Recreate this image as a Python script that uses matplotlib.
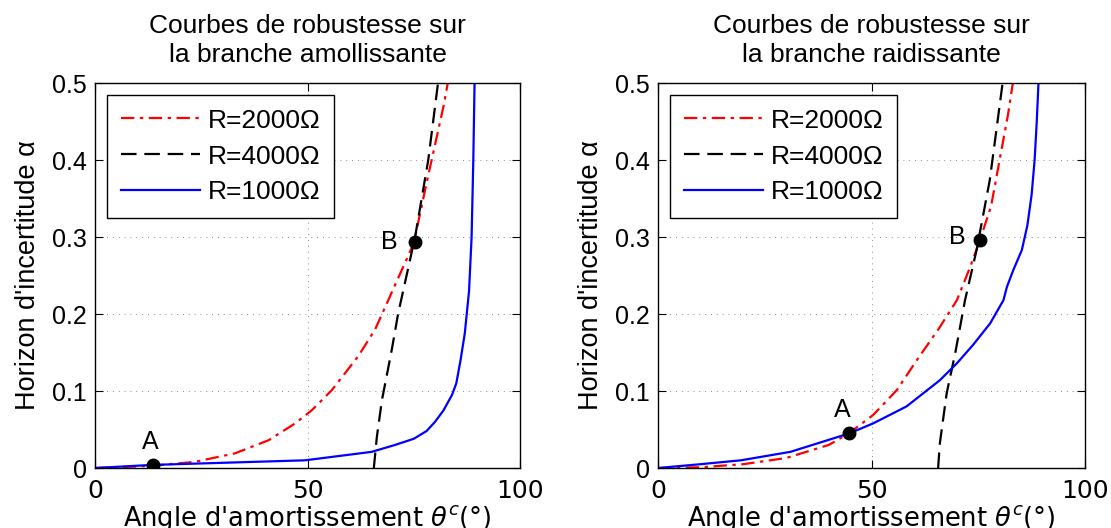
import numpy as np
import matplotlib
matplotlib.use("Agg")
import matplotlib.pyplot as plt

# Courbes de robustesse
titles = ["Courbes de robustesse sur\nla branche amollissante",
          "Courbes de robustesse sur\nla branche raidissante"]
labels = ["R=2000Ω", "R=4000Ω", "R=1000Ω"]

# branche amollissante
soft_r2000_x = [0, 10, 15.7, 23.5, 32.9, 40.8, 47.1, 51, 55.7, 61.9, 65.9, 69, 72, 75, 78, 80, 82, 83]
soft_r2000_y = [0, 0.002, 0.004, 0.008, 0.019, 0.036, 0.058, 0.075, 0.101, 0.145, 0.180, 0.218, 0.255,
                0.292, 0.37, 0.42, 0.47, 0.5]
soft_r4000_x = [65.6, 66.3, 67.5, 69.8, 71.3, 75.3, 78.4, 80.7]
soft_r4000_y = [0, 0.04, 0.088, 0.153, 0.2, 0.3, 0.4, 0.5]
soft_r1000_x = [0, 13.3, 49.4, 65.1, 70.6, 75, 78, 80, 82, 84, 85, 86, 87, 88, 88.6, 89, 89.3]
soft_r1000_y = [0, 0.004, 0.010, 0.021, 0.030, 0.038, 0.048, 0.06, 0.075, 0.095,
                0.11, 0.14, 0.175, 0.23, 0.3, 0.4, 0.5]
soft_pts = {"A": (13.6, 0.004), "B": (75.4, 0.293)}

# branche raidissante
stiff_r2000_x = [0, 10, 20, 30, 40, 44.7, 50.4, 55.9, 60.6, 66, 70, 73.1, 75.4, 78, 80, 82, 83.1]
stiff_r2000_y = [0, 0.001, 0.005, 0.013, 0.03, 0.045, 0.069, 0.101, 0.140, 0.183, 0.218, 0.261, 0.296,
                 0.34, 0.4, 0.46, 0.5]
stiff_r4000_x = [65.6, 66.0, 67.6, 69.6, 71.9, 74.6, 77.7, 80.7]
stiff_r4000_y = [0, 0.032, 0.097, 0.149, 0.218, 0.283, 0.374, 0.5]
stiff_r1000_x = [0, 10, 19.4, 31, 44.8, 50.4, 58.2, 66, 70, 73.8, 77.8, 80.9, 81.7, 83.2, 85.2, 86.5,
                 87.5, 88.2, 88.7, 89.1]
stiff_r1000_y = [0, 0.005, 0.010, 0.021, 0.045, 0.058, 0.080, 0.114, 0.136, 0.160, 0.188, 0.218, 0.235,
                 0.257, 0.283, 0.315, 0.355, 0.40, 0.45, 0.5]
stiff_pts = {"A": (44.7, 0.045), "B": (75.4, 0.296)}

# decalage des etiquettes A/B (points)
soft_offsets = {"A": (-2, 16.5), "B": (-18.5, 0)}
stiff_offsets = {"A": (-5, 16.5), "B": (-16, 2)}

HELV = "Liberation Sans"

fig = plt.figure(figsize=(11.11, 5.28), dpi=100)
ax1 = fig.add_axes([0.0855, 0.1136, 0.3826, 0.7292])
ax2 = fig.add_axes([0.5923, 0.1136, 0.3843, 0.7292])

panels = [
    (ax1, (soft_r2000_x, soft_r2000_y), (soft_r4000_x, soft_r4000_y), (soft_r1000_x, soft_r1000_y),
     soft_pts, soft_offsets),
    (ax2, (stiff_r2000_x, stiff_r2000_y), (stiff_r4000_x, stiff_r4000_y), (stiff_r1000_x, stiff_r1000_y),
     stiff_pts, stiff_offsets),
]

for i, (ax, r2, r4, r1, pts, offs) in enumerate(panels):
    ax.plot(r2[0], r2[1], color="red", lw=1.6, dashes=(6, 2.5, 1.5, 2.5), label=labels[0])
    ax.plot(r4[0], r4[1], color="black", lw=1.6, dashes=(7, 3.5), label=labels[1])
    ax.plot(r1[0], r1[1], color="blue", lw=1.6, label=labels[2])

    # points A et B
    for name, (px, py) in pts.items():
        ax.plot(px, py, "o", color="black", ms=9, zorder=5)
        ax.annotate(name, (px, py), xytext=offs[name], textcoords="offset points",
                    ha="center", va="center", fontsize=18, family=HELV)

    ax.set_xlim(0, 100)
    ax.set_ylim(0, 0.5)
    ax.set_xticks([0, 50, 100])
    ax.set_yticks([0, 0.1, 0.2, 0.3, 0.4, 0.5])
    ax.set_yticklabels(["0", "0.1", "0.2", "0.3", "0.4", "0.5"], family=HELV, fontsize=18)
    ax.tick_params(axis="x", labelsize=18, pad=8)
    ax.tick_params(axis="y", pad=6)
    ax.tick_params(direction="in", top=True, right=True, length=6, width=0.8)
    ax.grid(True, linestyle=(0, (1, 6)), color="black", lw=0.6, alpha=0.6)
    for s in ax.spines.values():
        s.set_linewidth(1.0)

    ax.set_title(titles[i], family=HELV, fontsize=19, pad=15, linespacing=1.25)
    ax.set_ylabel("Horizon d'incertitude α", family=HELV, fontsize=19.5, labelpad=8)
    ax.set_xlabel(r"Angle d'amortissement $\theta^c$(°)", fontsize=18.5, labelpad=0)

    leg = ax.legend(loc="upper left", prop={"family": HELV, "size": 19}, handlelength=3.0,
                    handletextpad=0.3, fancybox=False, framealpha=1, edgecolor="black",
                    borderpad=0.52, labelspacing=0.45, borderaxespad=0,
                    bbox_to_anchor=(0.028, 0.969))
    leg.get_frame().set_linewidth(1.0)

fig.savefig("out.png", dpi=100)
